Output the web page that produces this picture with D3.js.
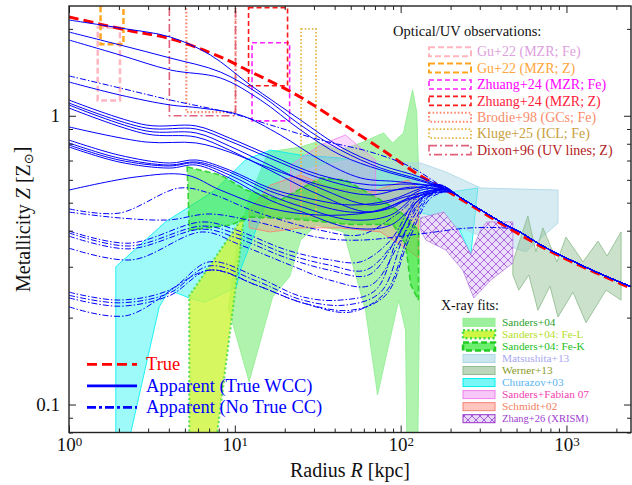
<!DOCTYPE html>
<html>
<head>
<meta charset="utf-8">
<script src="https://cdn.jsdelivr.net/npm/d3@7"></script>
<style>
  body { margin: 0; background: #fff; }
  svg { display: block; font-family: "Liberation Serif", "DejaVu Serif", serif; }
</style>
</head>
<body>
<svg id="chart" width="632" height="485"></svg>
<script>
// ---------------- data ----------------
// True metallicity profile Z(R)
const trueR = [1, 2.23, 4.08, 8.17, 11.85, 22.7, 43.4, 78.6, 126, 187, 276, 443, 701, 1065, 1616, 2450];
const trueZ = [2.20, 1.98, 1.85, 1.60, 1.44, 1.196, 0.948, 0.758, 0.629, 0.553, 0.483, 0.410, 0.353, 0.313, 0.281, 0.253];

// Outer part where every apparent profile has converged
const tailR = [231, 276, 350, 443, 531, 701, 1065, 1616, 2450];
const tailZ = [0.520, 0.488, 0.450, 0.415, 0.394, 0.357, 0.316, 0.283, 0.256];

// Apparent profiles, true weak cool core (solid)
const wccA_R = [1, 2.03, 4.08, 7.12, 12.4, 24.9, 43.4, 75.8, 132, 187];
const wccA_Z = [2.146, 2.014, 1.874, 1.624, 1.278, 0.967, 0.780, 0.675, 0.612, 0.558];
const wccBC_R = [1, 2.03, 4.08, 8.18, 14.3, 24.9, 43.4, 75.8, 132, 187];
const wccB_Z = [1.950, 1.759, 1.585, 1.418, 1.180, 0.929, 0.761, 0.659, 0.600, 0.558];
const wccC_Z = [1.830, 1.624, 1.441, 1.352, 1.134, 0.893, 0.731, 0.649, 0.594, 0.558];
const wccE_R = [1, 2.03, 4.08, 6.19, 10.8, 18.8, 32.9, 57.4, 100, 187];
const wccE_Z = [1.309, 1.180, 1.090, 1.064, 1.006, 0.858, 0.703, 0.609, 0.590, 0.558];
const wccF_R = [1, 2.92, 5.85, 9.26, 16.2, 32.4, 65.9, 115, 187];
const wccF2_R = [1, 2.92, 5.85, 9.26, 16.2, 32.4, 65.9, 115, 170];
const wccF4_R = [1, 2.92, 5.85, 9.26, 16.2, 32.4, 65.9, 115, 200];
const wccF1_Z = [1.134, 0.929, 0.922, 0.838, 0.731, 0.624, 0.576, 0.580, 0.558];
const wccF2_Z = [1.107, 0.907, 0.900, 0.818, 0.714, 0.609, 0.553, 0.560, 0.577];
const wccF3_Z = [1.090, 0.886, 0.872, 0.786, 0.675, 0.562, 0.491, 0.530, 0.558];
const wccF4_Z = [1.064, 0.865, 0.844, 0.761, 0.649, 0.532, 0.464, 0.520, 0.545];
const wccI_Z = [0.915, 0.811, 0.805, 0.749, 0.659, 0.576, 0.532, 0.566, 0.545];
const wccG_R = [1, 2.0, 4.02, 5.85, 9.26, 16.2, 25.6, 49.9, 87.0, 132, 187];
const wccG1_R = [1, 2.0, 4.02, 5.85, 9.26, 16.2, 25.6, 49.9, 87.0, 132, 170];
const wccG3_R = [1, 2.0, 4.02, 5.85, 9.26, 16.2, 25.6, 49.9, 87.0, 132, 200];
const wccG1_Z = [0.824, 0.731, 0.686, 0.703, 0.649, 0.562, 0.523, 0.491, 0.511, 0.560, 0.577];
const wccG2_Z = [0.805, 0.714, 0.675, 0.692, 0.639, 0.549, 0.507, 0.464, 0.479, 0.552, 0.558];
const wccG3_Z = [0.792, 0.703, 0.670, 0.686, 0.624, 0.532, 0.483, 0.436, 0.453, 0.540, 0.545];
const wccG4_Z = [0.780, 0.692, 0.659, 0.675, 0.609, 0.511, 0.464, 0.409, 0.418, 0.515, 0.556];
const wccH_R = [1, 2.54, 5.09, 8.18, 16.2, 32.4, 65.9, 115, 187];
const wccH_Z = [0.553, 0.614, 0.624, 0.553, 0.479, 0.453, 0.464, 0.515, 0.556];

// Apparent profiles, no true cool core (dash-dot)
const nccD_R = [1, 2.03, 4.08, 9.39, 16.4, 32.9, 65.9, 115, 187];
const nccD_Z = [1.374, 1.248, 1.134, 1.022, 0.929, 0.824, 0.749, 0.665, 0.558];
const ncc1_R = [1, 2.0, 4.62, 7.01, 13.5, 32.4, 57.4, 93.3, 132, 187];
const ncc1_Z = [0.476, 0.460, 0.562, 0.540, 0.464, 0.402, 0.387, 0.453, 0.532, 0.558];
const ncc2_R = [1, 2.0, 4.02, 7.01, 13.5, 32.9, 57.4, 132, 265, 462];
const ncc2_Z = [0.464, 0.443, 0.436, 0.457, 0.429, 0.378, 0.371, 0.390, 0.409, 0.406];
const ncc3a_R = [1, 2.30, 6.36, 10.2, 20.5, 37.2, 57.4, 87.0, 123, 170];
const ncc3a_Z = [0.399, 0.362, 0.429, 0.402, 0.343, 0.317, 0.312, 0.371, 0.511, 0.577];
const ncc3b_R = [1, 2.30, 6.36, 10.2, 20.5, 37.2, 61.4, 93.3, 128, 187];
const ncc3b_Z = [0.393, 0.354, 0.415, 0.390, 0.332, 0.304, 0.292, 0.371, 0.511, 0.558];
const ncc3c_R = [1, 2.30, 6.36, 10.2, 20.5, 37.2, 64.1, 97.3, 132, 200];
const ncc3c_Z = [0.383, 0.346, 0.405, 0.378, 0.322, 0.292, 0.281, 0.387, 0.519, 0.545];
const ncc4_R = [1, 2.40, 6.36, 10.8, 21.6, 37.2, 65.9, 100, 136, 200];
const ncc4_Z = [0.348, 0.317, 0.396, 0.357, 0.304, 0.270, 0.259, 0.371, 0.511, 0.545];
const ncc5a_R = [1, 2.0, 4.02, 7.01, 13.5, 25.6, 43.4, 70.6, 100, 141.6, 170];
const ncc5a_Z = [0.245, 0.230, 0.249, 0.312, 0.277, 0.236, 0.230, 0.249, 0.402, 0.532, 0.577];
const ncc5b_R = [1, 2.0, 4.02, 7.01, 13.5, 25.6, 46.5, 75.7, 107, 148, 187];
const ncc5b_Z = [0.239, 0.225, 0.243, 0.302, 0.268, 0.230, 0.221, 0.245, 0.396, 0.528, 0.558];
const ncc5c_R = [1, 2.0, 4.02, 7.01, 13.5, 25.6, 49.9, 81.2, 111.8, 152, 200];
const ncc5c_Z = [0.234, 0.219, 0.238, 0.292, 0.259, 0.225, 0.212, 0.239, 0.371, 0.519, 0.545];
const ncc6_R = [1, 2.21, 7.01, 13.5, 25.6, 49.9, 81.2, 111.8, 152, 192];
const ncc6_Z = [0.218, 0.203, 0.292, 0.259, 0.225, 0.209, 0.245, 0.387, 0.532, 0.556];

// Optical / UV constraints: radial range and metallicity range of each box
const opticalLabels = ["Gu+22 (MZR; Fe)", "Gu+22 (MZR; Z)", "Zhuang+24 (MZR; Fe)", "Zhuang+24 (MZR; Z)",
                       "Brodie+98 (GCs; Fe)", "Kluge+25 (ICL; Fe)", "Dixon+96 (UV lines; Z)"];
const opticalRmin = [1.49, 1.55, 12.7, 12.1, 5.1, 25.1, 4.03];
const opticalRmax = [2.03, 2.13, 21.4, 20.8, 10.1, 30.9, 10.1];
const opticalZmin = [1.13, 1.77, 0.96, 1.27, 1.03, 0.45, 1.0];
const opticalZmax = [2.02, 2.6, 1.79, 2.37, 2.6, 2.0, 2.6];

// X-ray fits: outlines of the published bands as (R, Z) vertices
const xrayLabels = ["Sanders+04", "Sanders+04: Fe-L", "Sanders+04: Fe-K", "Matsushita+13", "Werner+13",
                    "Churazov+03", "Sanders+Fabian 07", "Schmidt+02", "Zhang+26 (XRISM)"];
const sanders04 = [[12.2,0.120],[9.13,0.216],[10.2,0.343],[12.1,0.511],[15.9,0.749],[24.9,0.780],[31.1,0.811],
  [43.4,0.761],[57.4,0.805],[79.0,0.872],[89.5,0.805],[104,0.872],[118,1.23],[125,1.03],[130,0.511],[130,0.230],
  [127,0.075],[109,0.075],[107,0.181],[97.3,0.230],[72.6,0.108],[61.4,0.212],[45.3,0.396],[31.1,0.418],
  [24.9,0.371],[21.4,0.277],[16.9,0.236]];
const sanders04FeL = [[5.31,0.075],[5.31,0.238],[7.73,0.327],[11.4,0.453],[10.2,0.264],[7.73,0.075]];
const sanders04FeK = [[5.16,0.665],[8.18,0.624],[11.7,0.553],[18.8,0.511],[32.9,0.609],[46.5,0.599],[75.7,0.511],
  [100,0.464],[128,0.402],[128,0.230],[115,0.260],[107,0.360],[90,0.420],[49.9,0.420],[32.9,0.430],
  [21.7,0.440],[12.4,0.446],[9.39,0.418],[5.31,0.402]];
const matsushita13 = [[18.8,0.624],[49.9,0.703],[132,0.686],[187,0.639],[305,0.562],[889,0.553],[889,0.425],
  [569,0.338],[350,0.371],[231,0.409],[132,0.443],[49.9,0.453],[18.8,0.436]];
const werner13 = [[475,0.312],[585,0.450],[654,0.338],[721,0.409],[876,0.312],[993,0.380],[1258,0.312],
  [1550,0.368],[1757,0.327],[2135,0.396],[2135,0.230],[1733,0.249],[1312,0.192],[1095,0.245],[889,0.201],
  [795,0.257],[673,0.212],[593,0.281],[516,0.249],[475,0.281]];
const churazov03 = [[1.915,0.300],[3.84,0.430],[5.31,0.484],[7.62,0.553],[11.57,0.703],[16.4,0.761],[24.9,0.731],
  [43.4,0.714],[75.7,0.649],[132,0.609],[200,0.545],[292,0.562],[265,0.330],[224,0.409],[152,0.453],[87,0.491],
  [46.5,0.532],[24.9,0.545],[15.3,0.491],[10.8,0.292],[10.2,0.255],[6.54,0.226],[5.31,0.234],[4.02,0.249],
  [3.50,0.218],[2.30,0.075],[1.915,0.075]];
const sandersFabian07 = [[21.7,0.675],[32.9,0.792],[46.5,0.858],[57.4,0.774],[70.6,0.703],[70.6,0.491],[46.5,0.472],[21.7,0.491]];
const schmidt02 = [[12.2,0.472],[16.4,0.576],[24.9,0.624],[37.8,0.562],[65.9,0.545],[111,0.599],[128,0.562],
  [128,0.322],[111,0.343],[75.7,0.396],[43.4,0.409],[24.9,0.409],[16.4,0.396],[12.2,0.409]];
const zhang26 = [[132,0.443],[182,0.464],[221,0.402],[265,0.332],[305,0.405],[331,0.429],[475,0.429],[475,0.309],
  [350,0.270],[276,0.234],[237,0.292],[187,0.343],[142,0.371],[132,0.402]];

const majorXTicks = [1, 10, 100, 1000];
const majorYTicks = [0.1, 1];
const yTickLabels = ["0.1", "1"];
const legendLabels = ["True", "Apparent (True WCC)", "Apparent (No True CC)"];

// ---------------- layout ----------------
const svg = d3.select("#chart");
const plot = { left: 69, right: 631, top: 6, bottom: 432.5 };
const x = d3.scaleLog().domain([1, 2450]).range([plot.left, plot.right]);
const y = d3.scaleLog().domain([0.08, 2.4]).range([plot.bottom, plot.top]);

const defs = svg.append("defs");
defs.append("clipPath").attr("id", "plotClip").append("rect")
  .attr("x", plot.left).attr("y", plot.top)
  .attr("width", plot.right - plot.left).attr("height", plot.bottom - plot.top);

// cross-hatch used for the XRISM band
const hatch = defs.append("pattern").attr("id", "xhatch").attr("patternUnits", "userSpaceOnUse")
  .attr("width", 8).attr("height", 8);
hatch.append("rect").attr("width", 8).attr("height", 8).attr("fill", "#eadcf6");
hatch.append("path").attr("d", "M0,0L8,8M8,0L0,8")
  .attr("stroke", "#a45ad8").attr("stroke-width", 1);

const g = svg.append("g").attr("clip-path", "url(#plotClip)");

// ---------------- X-ray bands ----------------
const polyPath = d3.line().x(d => x(d[0])).y(d => y(d[1]));
const xrayBands = [sanders04, sanders04FeL, sanders04FeK, matsushita13, werner13, churazov03, sandersFabian07, schmidt02, zhang26];
const xrayFill = ["#90ee90", "#cdf53a", "#2ee82e", "#add8e6", "#8fbc8f", "#00f0f0", "#ee82ee", "#fa8072", "url(#xhatch)"];
const xrayFillOpacity = [0.72, 0.8, 0.55, 0.5, 0.45, 0.38, 0.3, 0.3, 0.9];
const xrayStroke = ["#90ee90", "#44dd44", "#22cc22", "#add8e6", "#8fbc8f", "#00f0f0", "#ee82ee", "#fa8072", "#b070e0"];
const xrayStrokeDash = [null, "2,2.5", "6,3", null, null, null, null, null, null];
const xrayStrokeWidth = [1, 2.2, 1.6, 1, 1, 1, 1, 1, 0.8];
const drawOrder = [0, 5, 3, 4, 6, 7, 1, 2, 8];
drawOrder.forEach(i => {
  g.append("path").attr("d", polyPath(xrayBands[i]) + "Z")
    .attr("fill", xrayFill[i]).attr("fill-opacity", xrayFillOpacity[i])
    .attr("stroke", xrayStroke[i]).attr("stroke-width", xrayStrokeWidth[i])
    .attr("stroke-opacity", 0.85)
    .attr("stroke-dasharray", xrayStrokeDash[i]);
});

// ---------------- optical / UV boxes ----------------
const optStroke = ["#ffb6c1", "#ffa520", "#ff22ff", "#ff1a1a", "#fa8a72", "#e6b84a", "#e0607a"];
const optDash = ["6,3", "6,3", "5,3", "5,3", "1.6,2", "1.6,2", "8,3,2,3"];
const optWidth = [2.5, 2.5, 1.6, 1.6, 2.2, 1.8, 1.6];
const optText = ["#dda0dd", "#ffa53a", "#ff00ff", "#ff1a3a", "#fa8c6a", "#c8a03c", "#b22222"];
opticalLabels.forEach((lab, i) => {
  const x0 = x(opticalRmin[i]), x1 = x(opticalRmax[i]);
  const y0 = y(opticalZmax[i]), y1 = y(opticalZmin[i]);
  g.append("rect").attr("x", x0).attr("y", y0).attr("width", x1 - x0).attr("height", y1 - y0)
    .attr("fill", "none").attr("stroke", optStroke[i]).attr("stroke-width", optWidth[i])
    .attr("stroke-dasharray", optDash[i]);
});

// ---------------- profiles ----------------
const curve = d3.line().x(d => x(d[0])).y(d => y(d[1])).curve(d3.curveCatmullRom.alpha(0.5));
function withTail(R, Z) {
  const pts = R.map((r, i) => [r, Z[i]]);
  const last = R[R.length - 1];
  tailR.forEach((r, i) => { if (r > last * 1.12) pts.push([r, tailZ[i]]); });
  return pts;
}

const trueLine = trueR.map((r, i) => [r, trueZ[i]]);
g.append("path").attr("d", curve(trueLine)).attr("fill", "none")
  .attr("stroke", "#ff0000").attr("stroke-width", 3).attr("stroke-dasharray", "10,5");

const wccProfiles = [
  [wccA_R, wccA_Z], [wccBC_R, wccB_Z], [wccBC_R, wccC_Z], [wccE_R, wccE_Z],
  [wccF_R, wccF1_Z], [wccF2_R, wccF2_Z], [wccF_R, wccF3_Z], [wccF4_R, wccF4_Z], [wccF4_R, wccI_Z],
  [wccG1_R, wccG1_Z], [wccG_R, wccG2_Z], [wccG3_R, wccG3_Z], [wccG_R, wccG4_Z], [wccH_R, wccH_Z]
];
const nccProfiles = [
  [nccD_R, nccD_Z], [ncc1_R, ncc1_Z], [ncc2_R, ncc2_Z], [ncc3a_R, ncc3a_Z], [ncc3b_R, ncc3b_Z],
  [ncc3c_R, ncc3c_Z], [ncc4_R, ncc4_Z], [ncc5a_R, ncc5a_Z], [ncc5b_R, ncc5b_Z], [ncc5c_R, ncc5c_Z], [ncc6_R, ncc6_Z]
];
nccProfiles.forEach(([R, Z]) => {
  g.append("path").attr("d", curve(withTail(R, Z))).attr("fill", "none")
    .attr("stroke", "#0000ff").attr("stroke-width", 1).attr("stroke-dasharray", "6,2,1.5,2");
});
wccProfiles.forEach(([R, Z]) => {
  g.append("path").attr("d", curve(withTail(R, Z))).attr("fill", "none")
    .attr("stroke", "#0000ff").attr("stroke-width", 1);
});

// ---------------- axes ----------------
const axisColor = "#222";
function minorTicks(lo, hi) {
  const out = [];
  for (let e = Math.floor(Math.log10(lo)); e <= Math.ceil(Math.log10(hi)); e++) {
    for (let m = 2; m <= 9; m++) { const v = m * Math.pow(10, e); if (v >= lo && v <= hi) out.push(v); }
  }
  return out;
}
const xMinor = minorTicks(1, 2450);
const yMinor = minorTicks(0.08, 2.4);

function styleAxis(sel) {
  sel.select(".domain").remove();
  sel.selectAll(".tick line").attr("stroke", axisColor).attr("stroke-width", 1);
}
// bottom
const bx = svg.append("g").attr("transform", `translate(0,${plot.bottom})`)
  .call(d3.axisBottom(x).tickValues(majorXTicks).tickSize(-7).tickSizeOuter(0).tickPadding(5));
bx.call(styleAxis);
bx.selectAll(".tick text").each(function (d) {
  const t = d3.select(this);
  t.text(null).attr("fill", "#111").attr("font-size", 19).attr("font-family", "Liberation Serif, serif");
  t.append("tspan").text("10");
  t.append("tspan").attr("dy", "-0.42em").attr("font-size", 13).text(Math.round(Math.log10(d)));
});
svg.append("g").attr("transform", `translate(0,${plot.bottom})`)
  .call(d3.axisBottom(x).tickValues(xMinor).tickSize(-4).tickSizeOuter(0).tickFormat("")).call(styleAxis);
// top
svg.append("g").attr("transform", `translate(0,${plot.top})`)
  .call(d3.axisTop(x).tickValues(majorXTicks).tickSize(-7).tickSizeOuter(0).tickFormat("")).call(styleAxis);
svg.append("g").attr("transform", `translate(0,${plot.top})`)
  .call(d3.axisTop(x).tickValues(xMinor).tickSize(-4).tickSizeOuter(0).tickFormat("")).call(styleAxis);
// left
const ly = svg.append("g").attr("transform", `translate(${plot.left},0)`)
  .call(d3.axisLeft(y).tickValues(majorYTicks).tickSize(-7).tickSizeOuter(0).tickPadding(9)
    .tickFormat((d, i) => yTickLabels[i]));
ly.call(styleAxis);
ly.selectAll(".tick text").attr("font-size", 19).attr("fill", "#111").attr("font-family", "Liberation Serif, serif");
svg.append("g").attr("transform", `translate(${plot.left},0)`)
  .call(d3.axisLeft(y).tickValues(yMinor).tickSize(-4).tickSizeOuter(0).tickFormat("")).call(styleAxis);
// right
svg.append("g").attr("transform", `translate(${plot.right},0)`)
  .call(d3.axisRight(y).tickValues(majorYTicks).tickSize(-7).tickSizeOuter(0).tickFormat("")).call(styleAxis);
svg.append("g").attr("transform", `translate(${plot.right},0)`)
  .call(d3.axisRight(y).tickValues(yMinor).tickSize(-4).tickSizeOuter(0).tickFormat("")).call(styleAxis);

svg.append("rect").attr("x", plot.left).attr("y", plot.top)
  .attr("width", plot.right - plot.left).attr("height", plot.bottom - plot.top)
  .attr("fill", "none").attr("stroke", axisColor).attr("stroke-width", 1.4);

// axis titles
const xt = svg.append("text").attr("x", (plot.left + plot.right) / 2).attr("y", 477)
  .attr("text-anchor", "middle").attr("font-size", 20).attr("fill", "#111");
xt.append("tspan").text("Radius ");
xt.append("tspan").attr("font-style", "italic").text("R");
xt.append("tspan").text(" [kpc]");

const yt = svg.append("text").attr("transform", `translate(30,${(plot.top + plot.bottom) / 2}) rotate(-90)`)
  .attr("text-anchor", "middle").attr("font-size", 20).attr("fill", "#111");
yt.append("tspan").text("Metallicity ");
yt.append("tspan").attr("font-style", "italic").text("Z");
yt.append("tspan").text(" [Z");
yt.append("tspan").attr("font-size", 13).attr("dy", "0.25em").attr("font-family", "DejaVu Sans").text("\u2299");
yt.append("tspan").attr("dy", "-0.25em").text("]");

// ---------------- legends ----------------
// optical / UV
svg.append("text").attr("x", 393).attr("y", 36).attr("font-size", 14.5).attr("fill", "#111")
  .text("Optical/UV observations:");
opticalLabels.forEach((lab, i) => {
  const cy = 51.7 + i * 16.4;
  svg.append("rect").attr("x", 429).attr("y", cy - 4.5).attr("width", 42).attr("height", 9)
    .attr("fill", "none").attr("stroke", optStroke[i]).attr("stroke-width", Math.min(optWidth[i], 2))
    .attr("stroke-dasharray", optDash[i]);
  svg.append("text").attr("x", 477).attr("y", cy + 4.6).attr("font-size", 14).attr("fill", optText[i]).text(lab);
});

// X-ray fits
svg.append("text").attr("x", 441).attr("y", 309.5).attr("font-size", 14).attr("fill", "#111").text("X-ray fits:");
const xrayText = ["#2ea02e", "#b5e02a", "#22c022", "#a8a8f0", "#8a9a2a", "#5ab4f0", "#f040b0", "#f08060", "#a040d0"];
xrayLabels.forEach((lab, i) => {
  const cy = 322.3 + i * 12.05;
  svg.append("rect").attr("x", 463).attr("y", cy - 4).attr("width", 32).attr("height", 8)
    .attr("fill", xrayFill[i]).attr("fill-opacity", i === 8 ? 1 : Math.min(1, xrayFillOpacity[i] + 0.15))
    .attr("stroke", i === 8 ? "#9932cc" : xrayStroke[i]).attr("stroke-width", i === 1 || i === 2 ? 2.5 : 1)
    .attr("stroke-dasharray", xrayStrokeDash[i]);
  svg.append("text").attr("x", 502).attr("y", cy + 3.6).attr("font-size", i === 8 ? 10.5 : 11.3)
    .attr("fill", xrayText[i]).text(lab);
});

// profiles legend
const legColor = ["#ff0000", "#0000ff", "#0000ff"];
const legDash = ["10,5", null, "9,3,3,3"];
legendLabels.forEach((lab, i) => {
  const cy = 364.3 + i * 21.5;
  svg.append("line").attr("x1", 87).attr("x2", 137).attr("y1", cy).attr("y2", cy)
    .attr("stroke", legColor[i]).attr("stroke-width", 2.8).attr("stroke-dasharray", legDash[i]);
  svg.append("text").attr("x", 146).attr("y", cy + 6).attr("font-size", 18.5).attr("fill", legColor[i]).text(lab);
});
</script>
</body>
</html>
